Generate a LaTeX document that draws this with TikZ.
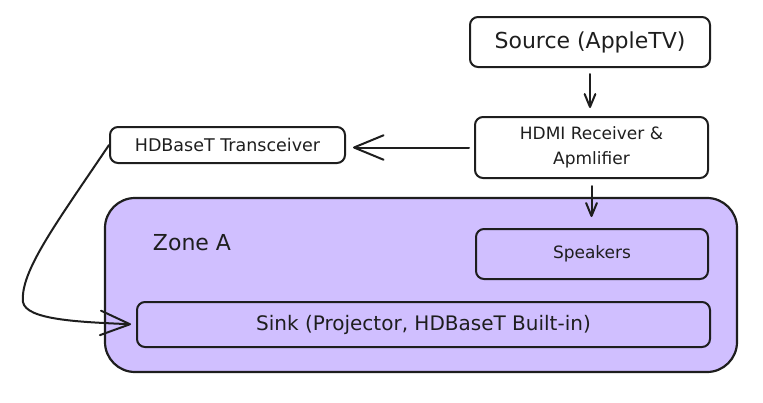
\documentclass[tikz,border=0pt]{standalone}
\usepackage{fontspec}
\setmainfont{DejaVu Sans}
\usetikzlibrary{arrows.meta}
\definecolor{ink}{HTML}{1E1E1E}
\definecolor{zonefill}{HTML}{D0BFFF}

\begin{document}
\begin{tikzpicture}[x=1pt,y=-1pt,
    box/.style={draw=ink,line width=2pt,rounded corners=8pt,align=center,inner sep=0pt,text=ink},
    zonebox/.style={draw=ink,fill=zonefill,line width=2.2pt,rounded corners=30pt,inner sep=0pt},
    arr/.style={draw=ink,line width=2pt,line cap=round,line join=round,-{Straight Barb[angle=45:#1,round]}}]
    \useasboundingbox (0,0) rectangle (763,402);
    \node[box,minimum width=240,minimum height=50,font=\fontsize{22}{26}\selectfont] (src) at (590,42) {Source (AppleTV)};
    \node[box,minimum width=233,minimum height=61,font=\fontsize{17}{25}\selectfont] (hdmi) at (591.5,147.5) {HDMI Receiver \&\\Apmlifier};
    \node[box,minimum width=235,minimum height=36,font=\fontsize{17.5}{21}\selectfont] (trans) at (227.5,145) {HDBaseT Transceiver};
    \node[zonebox,minimum width=632,minimum height=174] (zone) at (421,285) {};
    \node[text=ink,font=\fontsize{22}{26}\selectfont] (zonename) at (192,243) {Zone A};
    \node[box,minimum width=232,minimum height=50,font=\fontsize{17}{21}\selectfont] (spk) at (592,254) {Speakers};
    \node[box,minimum width=573,minimum height=45,font=\fontsize{20}{24}\selectfont] (sink) at (423.5,324.5) {Sink (Projector, HDBaseT Built-in)};
    \draw[arr=14pt,shorten <=6pt,shorten >=8pt] (src.south) -- (src.south |- hdmi.north);
    \draw[arr=32pt,shorten <=5pt,shorten >=7pt] (hdmi.west) -- (trans.east |- hdmi.west);
    \draw[arr=14pt,shorten <=7pt,shorten >=11pt] (hdmi.south) -- (hdmi.south |- spk.north);
    \draw[arr=32pt,shorten >=5pt] (trans.west) .. controls (55,225) and (20,272) .. (23,302)
        .. controls (26,320) and (80,322) .. (sink.west);
\end{tikzpicture}
\end{document}
